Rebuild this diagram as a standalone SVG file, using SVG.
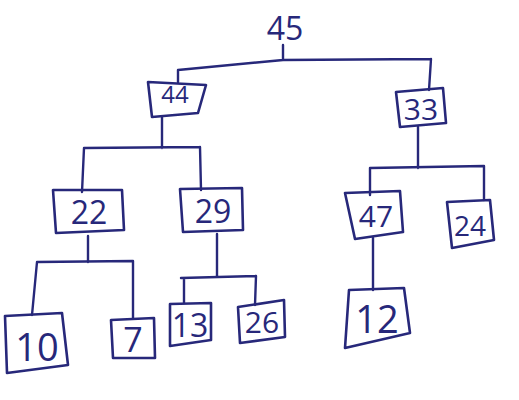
<svg xmlns="http://www.w3.org/2000/svg" width="519" height="400" viewBox="0 0 519 400">
<style>
.b{fill:none;stroke:#27287a;stroke-width:2.6;stroke-linejoin:round}
.c{fill:none;stroke:#27287a;stroke-width:2.4;stroke-linecap:round;stroke-linejoin:round}
.t{font-family:"Open Sans","DejaVu Sans",sans-serif;fill:#27287a;text-anchor:middle;font-weight:400}
</style>
<rect width="519" height="400" fill="#ffffff"/>
<g id="connectors">
<path class="c" d="M283 45 L283 60 M178 70 L283 60 L431 59 M178 70 L178 82 M431 59 L429 90"/>
<path class="c" d="M162 117 L162 148 M84 148 L200 147 M84 148 L82 192 M200 147 L201 190"/>
<path class="c" d="M88 236 L88 262 M37 262 L133 261 M37 262 L32 315 M133 261 L133 318"/>
<path class="c" d="M217 234 L217 276 M181 278 L256 276 M184 278 L184 303 M256 276 L255 305"/>
<path class="c" d="M418 127 L418 168 M370 168 L484 166 M370 168 L370 195 M484 166 L484 200"/>
<path class="c" d="M373 238 L373 290"/>
</g>
<g id="n45"><text class="t" x="285" y="40" font-size="32">45</text></g>
<g id="n44"><polygon class="b" points="148,82 206,85 198,113 152,117"/><text class="t" x="175" y="103" font-size="24">44</text></g>
<g id="n33"><polygon class="b" points="396,92 443,88 446,123 400,127"/><text class="t" x="421" y="120" font-size="30">33</text></g>
<g id="n22"><polygon class="b" points="53,190 122,190 124,230 56,233"/><text class="t" x="89" y="224" font-size="32">22</text></g>
<g id="n29"><polygon class="b" points="180,189 242,188 243,230 183,232"/><text class="t" x="213" y="223" font-size="32">29</text></g>
<g id="n47"><polygon class="b" points="345,193 400,191 403,232 355,239"/><text class="t" x="376" y="227" font-size="30">47</text></g>
<g id="n24"><polygon class="b" points="447,202 490,200 494,240 452,248"/><text class="t" x="470" y="236" font-size="28">24</text></g>
<g id="n10"><polygon class="b" points="5,316 62,313 68,365 7,373"/><text class="t" x="37" y="361" font-size="38">10</text></g>
<g id="n7"><polygon class="b" points="111,320 154,318 155,358 113,358"/><text class="t" x="133" y="352" font-size="34">7</text></g>
<g id="n13"><polygon class="b" points="170,304 211,303 211,340 170,346"/><text class="t" x="190" y="337" font-size="32">13</text></g>
<g id="n26"><polygon class="b" points="238,307 284,300 285,337 240,343"/><text class="t" x="262" y="333" font-size="30">26</text></g>
<g id="n12"><polygon class="b" points="349,290 404,288 410,333 345,348"/><text class="t" x="377" y="333" font-size="38">12</text></g>
</svg>
